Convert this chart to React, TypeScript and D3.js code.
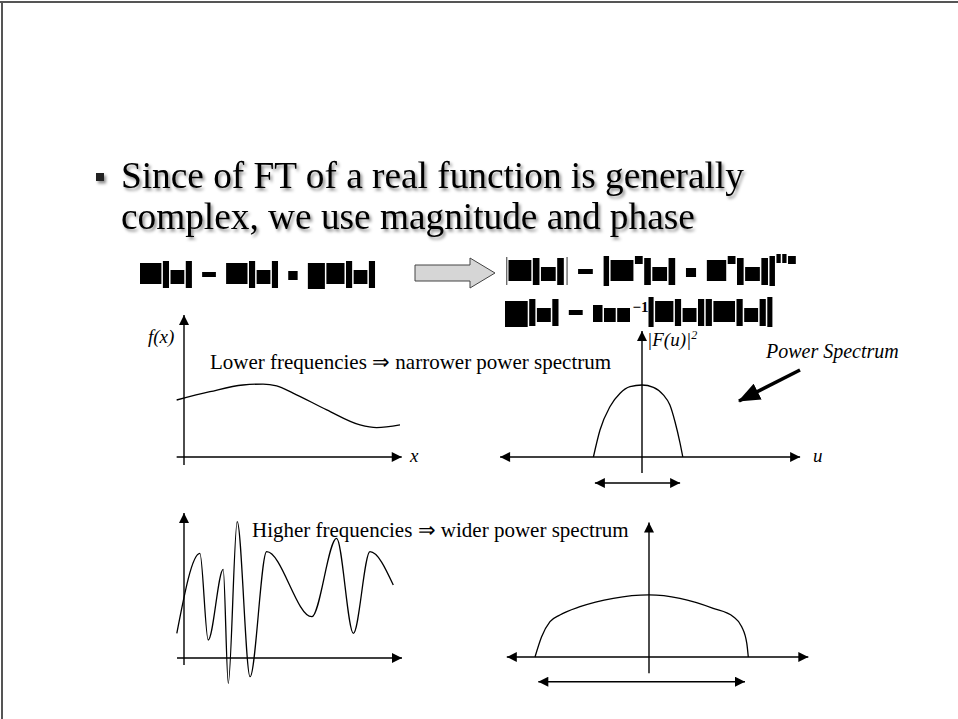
import React from "react";
import * as d3 from "d3";

const WIDTH = 958;
const HEIGHT = 719;

// Slide text
const bulletLines = [
  "Since of FT of a real function is generally",
  "complex, we use magnitude and phase",
];
const lowCaption = "Lower frequencies \u21D2 narrower power spectrum";
const highCaption = "Higher frequencies \u21D2 wider power spectrum";
const spectrumNote = "Power Spectrum";

// Equations, drawn as solid glyph boxes
const eqRectangular = "F(u) = R(u) + jI(u)";
const eqMagnitude = "|F(u)| = [R\u00B2(u) + I\u00B2(u)]\u00B9\u2044\u00B2";
const eqPhaseHead = "\u03C6(u) = tan";
const eqPhaseExp = "\u22121";
const eqPhaseTail = "[I(u)/R(u)]";

// Signal with low frequencies: [x, f(x)]
const lowFreqSignal: [number, number][] = [
  [-0.34, 4.75], [1.2, 5.44], [2.73, 6.0], [3.66, 6.08], [4.29, 5.92],
  [5.05, 5.33], [6.61, 3.92], [8.15, 2.67], [8.92, 2.44], [10.0, 2.67],
];
// Narrow power spectrum: [u, |F(u)|^2]
const narrowSpectrum: [number, number][] = [
  [-1.62, 0], [-1.4, 2.25], [-1.07, 4.19], [-0.73, 5.31], [-0.4, 5.86],
  [0, 6.0], [0.38, 5.81], [0.71, 5.17], [0.93, 4.33], [1.1, 2.94],
  [1.27, 1.14], [1.36, 0],
];
const narrowBand: [number, number] = [-1.57, 1.27];

// Signal with high frequencies: [x, f(x)]
const highFreqSignal: [number, number][] = [
  [-0.33, 2.06], [0.73, 8.72], [1.11, 1.5], [1.8, 7.39], [2.03, -2.11],
  [2.44, 11.36], [3.03, -1.56], [3.79, 8.86], [5.86, 3.44], [7.0, 9.97],
  [7.77, 2.06], [8.53, 8.86], [9.6, 6.08],
];
// Wide power spectrum: [u, |F(u)|^2]
const wideSpectrum: [number, number][] = [
  [-3.8, 0], [-3.58, 1.69], [-3.3, 2.94], [-2.97, 3.5], [-2.3, 4.19],
  [-1.19, 4.89], [0, 5.17], [1.03, 4.89], [2.14, 4.06], [2.81, 3.36],
  [3.09, 2.53], [3.26, 1.14], [3.31, 0],
];
const wideBand: [number, number] = [-3.69, 3.2];

// Box-glyph metrics: advance, top, bottom (px, relative to baseline)
const glyphMetrics: Record<string, [number, number, number]> = {
  F: [21, -21, 0], R: [21, -21, 0], I: [18, -21, 0], j: [17, -21, 5],
  "\u03C6": [22, -21, 5], u: [14, -14, 0], t: [10, -17, 0], a: [12, -14, 0],
  n: [13, -14, 0], "(": [7, -23, 4], ")": [7, -23, 4], "[": [6, -25, 5],
  "]": [6, -25, 5], "|": [3, -24, 4], "/": [7, -23, 4], "=": [14, -12, -7],
  "+": [10, -13, -4], "\u00B2": [8, -25, -17], "\u00B9": [5, -27, -18],
  "\u2044": [5, -27, -18], " ": [8, 0, 0],
};

type Box = { x: number; y: number; w: number; h: number; thin: boolean };

function layoutBoxes(text: string, x0: number, baseline: number, scale: number) {
  const boxes: Box[] = [];
  let x = x0;
  for (const ch of text) {
    const m = glyphMetrics[ch] || [12, -14, 0];
    const adv = m[0] * scale;
    if (ch !== " ") {
      const thin = ch === "|";
      boxes.push({
        x: thin ? x + adv / 2 - 0.6 : x,
        y: baseline + m[1],
        w: thin ? 1.2 : Math.max(adv - 1.5, 1.5),
        h: m[2] - m[1],
        thin,
      });
    }
    x += adv;
  }
  return { boxes, end: x };
}

const serif = "'Liberation Serif', 'Times New Roman', serif";

function Arrow({ x1, y1, x2, y2, both = false }: any) {
  return (
    <line
      x1={x1} y1={y1} x2={x2} y2={y2}
      stroke="#000" strokeWidth={1.4}
      markerEnd="url(#head)"
      markerStart={both ? "url(#head)" : undefined}
    />
  );
}

export default function App() {
  // panel scales
  const p1x = d3.scaleLinear().domain([0, 10]).range([184, 400]);
  const p1y = d3.scaleLinear().domain([0, 10]).range([457, 337]);
  const p2x = d3.scaleLinear().domain([-5, 5]).range([492, 792]);
  const p2y = d3.scaleLinear().domain([0, 10]).range([457, 337]);
  const p3x = d3.scaleLinear().domain([0, 10]).range([184, 402]);
  const p3y = d3.scaleLinear().domain([0, 10]).range([658, 538]);
  const p4x = d3.scaleLinear().domain([-5, 5]).range([499, 799]);
  const p4y = d3.scaleLinear().domain([0, 10]).range([657, 537]);

  const pathFor = (sx: any, sy: any, data: [number, number][]) =>
    d3.line<[number, number]>()
      .x((d) => sx(d[0]))
      .y((d) => sy(d[1]))
      .curve(d3.curveMonotoneX)(data) || "";

  const eq1 = layoutBoxes(eqRectangular, 140, 284, 1.09);
  const eq2 = layoutBoxes(eqMagnitude, 505, 281, 1.16);
  const eq3a = layoutBoxes(eqPhaseHead, 505, 322, 1.1);
  const expX = eq3a.end + 1;
  const eq3b = layoutBoxes(eqPhaseTail, expX + 16, 322, 1.1);
  const allBoxes = [...eq1.boxes, ...eq2.boxes, ...eq3a.boxes, ...eq3b.boxes];

  return (
    <svg
      width={WIDTH}
      height={HEIGHT}
      viewBox={`0 0 ${WIDTH} ${HEIGHT}`}
      style={{ position: "absolute", left: 0, top: 0, background: "#fff" }}
    >
      <defs>
        <filter id="softShadow" x="-5%" y="-30%" width="110%" height="170%">
          <feDropShadow dx="2" dy="2.5" stdDeviation="1.7" floodColor="#000" floodOpacity="0.45" />
        </filter>
        <marker id="head" viewBox="0 0 10 10" refX="10" refY="5" markerWidth="11" markerHeight="10"
          markerUnits="userSpaceOnUse" orient="auto-start-reverse">
          <path d="M0,0L10,5L0,10z" fill="#000" />
        </marker>
        <marker id="bigHead" viewBox="0 0 20 16" refX="19" refY="8" markerWidth="22" markerHeight="18"
          markerUnits="userSpaceOnUse" orient="auto">
          <path d="M0,0L20,8L0,16z" fill="#000" />
        </marker>
      </defs>

      <rect x={0} y={0} width={WIDTH} height={HEIGHT} fill="#fff" />
      {/* slide frame */}
      <line x1={0} y1={2} x2={WIDTH} y2={2} stroke="#555" strokeWidth={2} />
      <line x1={2} y1={1} x2={2} y2={HEIGHT} stroke="#555" strokeWidth={2} />

      {/* bullet */}
      <g filter="url(#softShadow)">
        <rect x={96} y={173} width={8} height={8} fill="#222" />
        {bulletLines.map((t, i) => (
          <text key={i} x={121} y={188 + i * 41} fontFamily={serif} fontSize={37.3} fill="#000">
            {t}
          </text>
        ))}
      </g>

      {/* equations */}
      {allBoxes.map((b, i) => (
        <rect key={i} x={b.x} y={b.y} width={b.w} height={b.h} fill={b.thin ? "#555" : "#000"} />
      ))}
      <text x={expX} y={312} fontFamily={serif} fontWeight="bold" fontSize={15} fill="#000">{eqPhaseExp}</text>

      {/* block arrow */}
      <path d="M415,265 L470,265 L470,258 L495,273 L470,288 L470,281 L415,281 Z"
        fill="#d6d6d6" stroke="#444" strokeWidth={1} />

      {/* panel 1: low-frequency signal */}
      <Arrow x1={p1x(0)} y1={p1y(-0.67)} x2={p1x(0)} y2={p1y(11.83)} />
      <line x1={p1x(-0.34)} y1={p1y(0)} x2={p1x(10.08)} y2={p1y(0)} stroke="#000" strokeWidth={1.4} markerEnd="url(#head)" />
      <path d={pathFor(p1x, p1y, lowFreqSignal)} fill="none" stroke="#000" strokeWidth={1.3} />
      <text x={148} y={343} fontFamily={serif} fontStyle="italic" fontSize={19}>f(x)</text>
      <text x={410} y={462} fontFamily={serif} fontStyle="italic" fontSize={19}>x</text>
      <text x={210} y={369} fontFamily={serif} fontSize={21}>{lowCaption}</text>

      {/* panel 2: narrow spectrum */}
      <line x1={p2x(0)} y1={p2y(-1.33)} x2={p2x(0)} y2={p2y(10.5)} stroke="#000" strokeWidth={1.4} markerEnd="url(#head)" />
      <Arrow x1={p2x(-4.73)} y1={p2y(0)} x2={p2x(5.27)} y2={p2y(0)} both />
      <path d={pathFor(p2x, p2y, narrowSpectrum)} fill="none" stroke="#000" strokeWidth={1.3} />
      <Arrow x1={p2x(narrowBand[0])} y1={p2y(-2.17)} x2={p2x(narrowBand[1])} y2={p2y(-2.17)} both />
      <text x={647} y={346} fontFamily={serif} fontStyle="italic" fontSize={19}>
        |F(u)|<tspan fontSize={12} dy={-7}>2</tspan>
      </text>
      <text x={813} y={462} fontFamily={serif} fontStyle="italic" fontSize={19}>u</text>
      <text x={766} y={358} fontFamily={serif} fontStyle="italic" fontSize={20}>{spectrumNote}</text>
      <line x1={800} y1={370} x2={739} y2={401} stroke="#000" strokeWidth={3.5} markerEnd="url(#bigHead)" />

      {/* panel 3: high-frequency signal */}
      <line x1={p3x(0)} y1={p3y(-0.58)} x2={p3x(0)} y2={p3y(12.08)} stroke="#000" strokeWidth={1.4} markerEnd="url(#head)" />
      <line x1={p3x(-0.32)} y1={p3y(0)} x2={p3x(10)} y2={p3y(0)} stroke="#000" strokeWidth={1.4} markerEnd="url(#head)" />
      <path d={pathFor(p3x, p3y, highFreqSignal)} fill="none" stroke="#000" strokeWidth={1.3} />
      <text x={252} y={537} fontFamily={serif} fontSize={21}>{highCaption}</text>

      {/* panel 4: wide spectrum */}
      <line x1={p4x(0)} y1={p4y(-1.36)} x2={p4x(0)} y2={p4y(11.2)} stroke="#000" strokeWidth={1.4} markerEnd="url(#head)" />
      <Arrow x1={p4x(-4.74)} y1={p4y(0)} x2={p4x(5.31)} y2={p4y(0)} both />
      <path d={pathFor(p4x, p4y, wideSpectrum)} fill="none" stroke="#000" strokeWidth={1.3} />
      <Arrow x1={p4x(wideBand[0])} y1={p4y(-2.06)} x2={p4x(wideBand[1])} y2={p4y(-2.06)} both />
    </svg>
  );
}
